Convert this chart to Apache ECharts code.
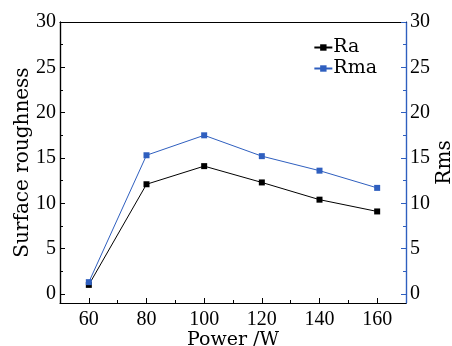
<!DOCTYPE html>
<html><head><meta charset="utf-8">
<script src="https://cdn.jsdelivr.net/npm/echarts@6/dist/echarts.min.js"></script>
<style>html,body{margin:0;padding:0;background:#fff}#c{width:452px;height:346px}</style>
</head><body><div id="c"></div>
<script>
const powers = [60, 80, 100, 120, 140, 160];
const ra = [1.0, 12.1, 14.1, 12.3, 10.4, 9.1];
const rma = [1.3, 15.3, 17.5, 15.2, 13.6, 11.7];
const xTicks = [60, 80, 100, 120, 140, 160];
const xMinor = [70, 90, 110, 130, 150];
const yTicks = [0, 5, 10, 15, 20, 25, 30];
const yMinor = [2.5, 7.5, 12.5, 17.5, 22.5, 27.5];

const NFONT = 'DejaVu Serif';
const TFONT = 'Liberation Serif';
const BLUE = '#2f5fbf';
const chart = echarts.init(document.getElementById('c'), null, {renderer: 'canvas'});
const txt = {fontFamily: TFONT, fontSize: 20, color: '#000'};

function yAx(pos, color, values, len, labels, name, nameGap) {
  return {
    type: 'value', position: pos, min: -1, max: 30,
    name: name || '', nameLocation: 'middle', nameGap: nameGap || 0, nameRotate: 90,
    nameMoveOverlap: false,
    nameTextStyle: {fontFamily: NFONT, fontSize: 20, color: '#000'},
    axisLine: {show: true, lineStyle: {color: color, width: 1.2}},
    axisTick: {show: true, inside: true, length: len, customValues: values, lineStyle: {color: color, width: 1}},
    axisLabel: labels ? Object.assign({customValues: values, margin: 4}, txt) : {show: false},
    splitLine: {show: false}
  };
}
function xAx(pos, values, len, labels, name, showLine) {
  return {
    type: 'value', position: pos, min: 50, max: 170,
    name: name || '', nameLocation: 'middle', nameGap: 28,
    nameMoveOverlap: false,
    nameTextStyle: {fontFamily: NFONT, fontSize: 19, color: '#000'},
    axisLine: {show: showLine, onZero: false, lineStyle: {color: '#000', width: 1.2}},
    axisTick: {show: values.length > 0, inside: true, length: len, customValues: values, lineStyle: {color: '#000', width: 1}},
    axisLabel: labels ? Object.assign({customValues: values, margin: 7}, txt) : {show: false},
    splitLine: {show: false}
  };
}

chart.setOption({
  animation: false,
  backgroundColor: '#fff',
  grid: {left: 60, right: 46, top: 22, bottom: 43, containLabel: false, outerBoundsMode: 'none'},
  legend: {
    right: 70, top: 33, orient: 'vertical', itemGap: 2,
    itemWidth: 18, itemHeight: 8,
    textStyle: {fontFamily: NFONT, fontSize: 19, color: '#000', padding: [0, 0, 0, -4]},
    data: ['Ra', 'Rma']
  },
  xAxis: [
    xAx('bottom', xTicks, 5, true, 'Power /W', true),
    xAx('bottom', xMinor, 3, false, '', false),
    xAx('top', [], 0, false, '', true)
  ],
  yAxis: [
    yAx('left', '#000', yTicks, 5, true, 'Surface roughness', 27),
    yAx('right', BLUE, yTicks, 5, true, 'Rms', 29),
    yAx('left', '#000', yMinor, 3, false),
    yAx('right', BLUE, yMinor, 3, false)
  ],
  series: [
    {name: 'Ra', type: 'line', xAxisIndex: 0, yAxisIndex: 0,
     data: powers.map((p, i) => [p, ra[i]]),
     symbol: 'rect', symbolSize: 6,
     lineStyle: {color: '#000', width: 1}, itemStyle: {color: '#000'}},
    {name: 'Rma', type: 'line', xAxisIndex: 0, yAxisIndex: 1,
     data: powers.map((p, i) => [p, rma[i]]),
     symbol: 'rect', symbolSize: 6,
     lineStyle: {color: BLUE, width: 1}, itemStyle: {color: BLUE}}
  ]
});
</script></body></html>
